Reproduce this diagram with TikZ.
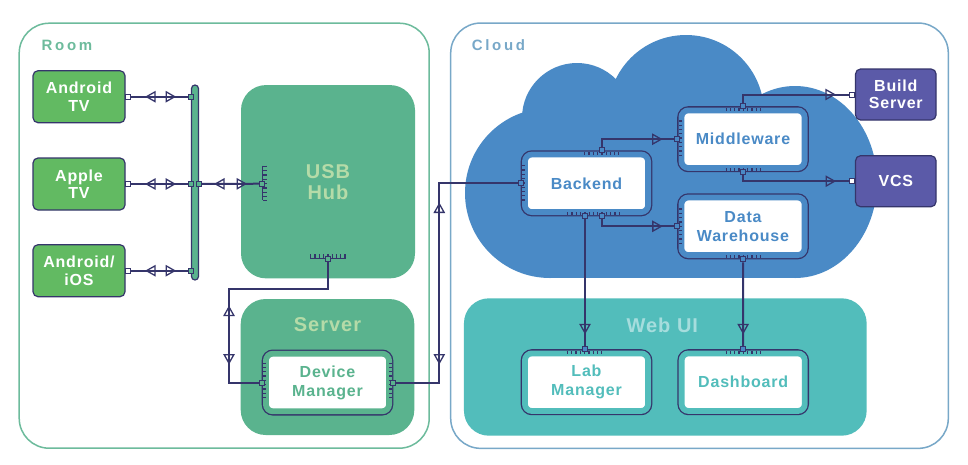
\documentclass[tikz,border=0pt]{standalone}
\usepackage{fontspec}
\setmainfont{Liberation Sans}
\newfontfamily\tagfont{Liberation Sans}[LetterSpace=5]
\newfontfamily\areafont{Liberation Sans}[LetterSpace=18]
\usetikzlibrary{arrows.meta, decorations.markings, calc}

\definecolor{roomline}{HTML}{6DBB9C}
\definecolor{cloudline}{HTML}{78A8C8}
\definecolor{devgreen}{HTML}{62BA62}
\definecolor{hubgreen}{HTML}{5AB38E}
\definecolor{hubtext}{HTML}{B5DBA8}
\definecolor{cloudblue}{HTML}{4A8AC6}
\definecolor{webteal}{HTML}{52BDBB}
\definecolor{webtext}{HTML}{A6DDDD}
\definecolor{toolpurple}{HTML}{5B5AA8}
\definecolor{navy}{HTML}{35356B}

\tikzset{
  tri/.tip={Triangle[open, length=10.5pt, width=11.5pt, line width=1.3pt]},
  area/.style={draw=#1, line width=1.5pt, rounded corners=30pt, inner sep=0pt},
  arealbl/.style={font=\areafont\bfseries\fontsize{15pt}{18pt}\selectfont, inner sep=0pt},
  block/.style={fill=#1, rounded corners=25pt, inner sep=0pt, align=center},
  blocklbl/.style={font=\tagfont\bfseries\fontsize{20pt}{21pt}\selectfont, inner sep=0pt, align=center},
  device/.style={draw=navy, line width=1.2pt, fill=devgreen, rounded corners=5pt,
    minimum width=92pt, minimum height=52pt, inner sep=0pt, text=white, align=center,
    font=\tagfont\bfseries\fontsize{16pt}{17.5pt}\selectfont},
  tool/.style={device, fill=toolpurple, minimum width=80.5pt, minimum height=51pt},
  bus/.style={draw=navy, line width=1.2pt, fill=hubgreen, rounded corners=3.5pt,
    minimum width=7pt, minimum height=195pt, inner sep=0pt},
  unit/.style={fill=white, draw=#1, line width=5.8pt, rounded corners=7pt,
    minimum width=123.2pt, minimum height=57.6pt, outer sep=4.2pt, inner sep=0pt,
    preaction={draw=navy, line width=8.4pt}, text=#1, align=center,
    font=\tagfont\bfseries\fontsize{16pt}{19pt}\selectfont},
  port/.style={draw=navy, line width=1pt, fill=#1, minimum size=5pt, inner sep=0pt, outer sep=0.5pt},
  link/.style={draw=navy, line width=2pt},
  comb/.style={draw=navy, line width=3pt, dash pattern=on 1.3pt off 3pt},
  spine/.style={draw=navy, line width=1.6pt},
  tipfwd/.style={postaction={decorate, decoration={markings, mark=at position #1 with {\arrow{tri}}}}},
  tipback/.style={postaction={decorate, decoration={markings, mark=at position #1 with {\arrowreversed{tri}}}}}
}

\begin{document}
\begin{tikzpicture}[x=1pt, y=-1pt]
          \useasboundingbox [fill=white] (0,0) rectangle (968,464);

          % the two areas
          \node [area=roomline, minimum width=410pt, minimum height=425pt] (room) at (224.2,235.7) {};
          \node [area=cloudline, minimum width=497.6pt, minimum height=425.3pt] (cloud) at (699.5,235.7) {};
          \node [arealbl, text=roomline, anchor=west] (room-l) at ([xshift=23pt, yshift=-23pt]room.north west) {Room};
          \node [arealbl, text=cloudline, anchor=west] (cloud-l) at ([xshift=21.6pt, yshift=-23pt]cloud.north west) {Cloud};

          % cloud shape
          \fill [cloudblue] (550,193) circle [radius=85pt];
          \fill [cloudblue] (577,118) circle [radius=55pt];
          \fill [cloudblue] (686,113) circle [radius=78pt];
          \fill [cloudblue] (795,182) ellipse [x radius=82pt, y radius=96pt];
          \fill [cloudblue] (550,160) rectangle (795,278);

          % blocks
          \node [block=hubgreen, text=hubtext, font=\tagfont\bfseries\fontsize{20pt}{21pt}\selectfont,
                 minimum width=174pt, minimum height=193.3pt] (hub) at (328,181.7) {USB\\Hub};
          \node [block=hubgreen, minimum width=173.6pt, minimum height=136pt] (server) at (327.5,367) {};
          \node [blocklbl, text=hubtext] (server-l) at ([yshift=-26pt]server.north) {Server};
          \node [block=webteal, minimum width=402.7pt, minimum height=137.4pt] (web) at (665.3,367) {};
          \node [blocklbl, text=webtext] (web-l) at ([xshift=-3pt, yshift=-27pt]web.north) {Web UI};

          % room devices
          \node [device] (atv) at (79,96.7) {Android\\TV};
          \node [device] (apptv) at (79,184) {Apple\\TV};
          \node [device] (aios) at (79,270.7) {Android/\\iOS};
          \node [bus] (bus) at (195,182.5) {};

          % units
          \node [unit=hubgreen] (dm) at (327.5,382.5) {Device\\Manager};
          \node [unit=cloudblue] (bk) at (586.5,183.3) {Backend};
          \node [unit=cloudblue] (mw) at (743,139.2) {Middleware};
          \node [unit=cloudblue] (dw) at (743,226.3) {Data\\Warehouse};
          \node [unit=webteal] (lab) at (586.5,382.2) {Lab\\Manager};
          \node [unit=webteal] (dash) at (743.2,382.2) {Dashboard};

          \node [tool] (build) at (895.8,94.5) {Build\\Server};
          \node [tool] (vcs) at (895.8,181.2) {VCS};

          % combs
          \draw [spine] ([xshift=21.5pt, yshift=16pt]hub.west) -- ([xshift=21.5pt, yshift=-18.6pt]hub.west);
          \draw [comb, line width=4pt] ([xshift=24pt, yshift=16pt]hub.west) -- ([xshift=24pt, yshift=-18.6pt]hub.west);
          \draw [spine] ([xshift=-18pt, yshift=20pt]hub.south) -- ([xshift=17.7pt, yshift=20pt]hub.south);
          \draw [comb, line width=4pt] ([xshift=-18pt, yshift=22.3pt]hub.south) -- ([xshift=17.7pt, yshift=22.3pt]hub.south);
          \draw [comb] ([xshift=2.8pt, yshift=20pt]dm.west) -- ([xshift=2.8pt, yshift=-16.7pt]dm.west);
          \draw [comb] ([xshift=-2.8pt, yshift=20pt]dm.east) -- ([xshift=-2.8pt, yshift=-16.7pt]dm.east);
          \draw [comb] ([xshift=-2.5pt, yshift=-2.8pt]bk.north) -- ([xshift=32.5pt, yshift=-2.8pt]bk.north);
          \draw [comb] ([xshift=-19.5pt, yshift=2.8pt]bk.south) -- ([xshift=33.5pt, yshift=2.8pt]bk.south);
          \draw [comb] ([xshift=2.8pt, yshift=18.3pt]bk.west) -- ([xshift=2.8pt, yshift=-18.4pt]bk.west);
          \draw [comb] ([xshift=2.8pt, yshift=19pt]mw.west) -- ([xshift=2.8pt, yshift=-19pt]mw.west);
          \draw [comb] ([xshift=-17.5pt, yshift=-2.8pt]mw.north) -- ([xshift=17.5pt, yshift=-2.8pt]mw.north);
          \draw [comb] ([xshift=-17.5pt, yshift=2.8pt]mw.south) -- ([xshift=17.5pt, yshift=2.8pt]mw.south);
          \draw [comb] ([xshift=2.8pt, yshift=18pt]dw.west) -- ([xshift=2.8pt, yshift=-17pt]dw.west);
          \draw [comb] ([xshift=-17.5pt, yshift=2.8pt]dw.south) -- ([xshift=17.5pt, yshift=2.8pt]dw.south);
          \draw [comb] ([xshift=-19.8pt, yshift=-2.8pt]lab.north) -- ([xshift=16.2pt, yshift=-2.8pt]lab.north);
          \draw [comb] ([xshift=-17.7pt, yshift=-2.8pt]dash.north) -- ([xshift=17.7pt, yshift=-2.8pt]dash.north);

          % ports
          \node [port=white] (atv-p) at ([xshift=2.5pt]atv.east) {};
          \node [port=white] (apptv-p) at ([xshift=2.5pt]apptv.east) {};
          \node [port=white] (aios-p) at ([xshift=2.5pt]aios.east) {};
          \node [port=hubgreen] (bus-a) at (bus.west |- atv-p) {};
          \node [port=hubgreen] (bus-b) at (bus.west |- apptv-p) {};
          \node [port=hubgreen] (bus-c) at (bus.west |- aios-p) {};
          \node [port=hubgreen] (bus-d) at (bus.east |- apptv-p) {};
          \node [port=hubgreen] (hub-p) at ([xshift=21.5pt, yshift=-2pt]hub.west) {};
          \node [port=hubgreen] (hub-b) at ([yshift=20pt]hub.south) {};
          \node [port=hubgreen] (dm-l) at (dm.west) {};
          \node [port=hubgreen] (dm-r) at (dm.east) {};
          \node [port=cloudblue] (bk-l) at (bk.west) {};
          \node [port=cloudblue] (bk-t) at ([xshift=15.2pt]bk.north) {};
          \node [port=cloudblue] (bk-b1) at ([xshift=-1.5pt]bk.south) {};
          \node [port=cloudblue] (bk-b2) at ([xshift=15.2pt]bk.south) {};
          \node [port=cloudblue] (mw-l) at (mw.west) {};
          \node [port=cloudblue] (mw-t) at (mw.north) {};
          \node [port=cloudblue] (mw-b) at (mw.south) {};
          \node [port=cloudblue] (dw-l) at (dw.west) {};
          \node [port=cloudblue] (dw-b) at (dw.south) {};
          \node [port=cloudblue] (lab-t) at ([xshift=-1.5pt]lab.north) {};
          \node [port=cloudblue] (dash-t) at (dash.north) {};
          \node [port=white] (build-p) at ([xshift=-2.5pt]build.west) {};
          \node [port=white] (vcs-p) at ([xshift=-2.5pt]vcs.west) {};

          \coordinate (sv-j) at (229,289.3);
          \coordinate (dm-up) at (439.3,183.3);

          % connectors
          \draw [link, tipback=14pt, tipfwd=45pt] (atv-p) -- (bus-a);
          \draw [link, tipback=14pt, tipfwd=45pt] (apptv-p) -- (bus-b);
          \draw [link, tipback=14pt, tipfwd=45pt] (aios-p) -- (bus-c);
          \draw [link, tipback=12pt, tipfwd=45pt] (bus-d) -- (hub-p);
          \draw [link, tipback=143pt, tipfwd=202pt] (hub-b) |- (sv-j) |- (dm-l);
          \draw [link, tipback=61pt, tipfwd=223pt] (dm-r) -| (dm-up) -- (bk-l);
          \draw [link, tipfwd=69pt] (bk-t) |- (mw-l);
          \draw [link, tipfwd=101.5pt] (mw-t) |- (build-p);
          \draw [link, tipfwd=99pt] (mw-b) |- (vcs-p);
          \draw [link, tipfwd=68pt] (bk-b2) |- (dw-l);
          \draw [link, tipfwd=115pt] (bk-b1) -- (lab-t);
          \draw [link, tipfwd=72pt] (dw-b) -- (dash-t);

\end{tikzpicture}
\end{document}
